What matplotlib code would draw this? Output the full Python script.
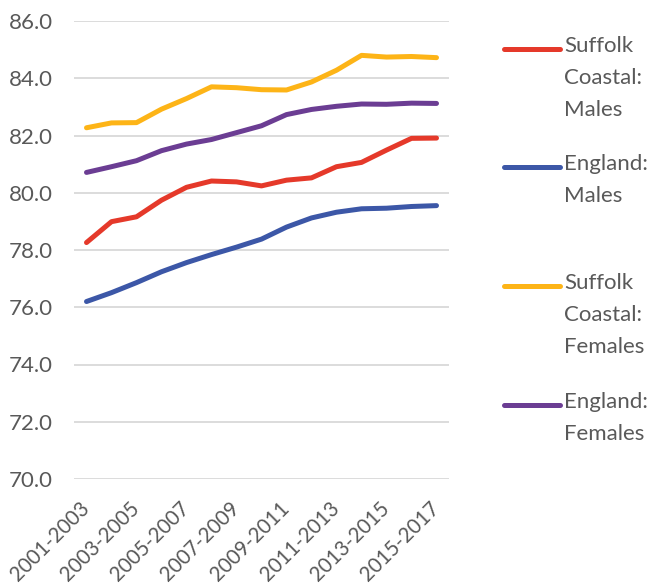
import matplotlib
matplotlib.use("Agg")
import matplotlib.pyplot as plt
from matplotlib.lines import Line2D

periods = [f"{y}-{y + 2}" for y in range(2001, 2016)]

suffolk_males = [78.26, 78.99, 79.16, 79.74, 80.19, 80.41, 80.38, 80.24,
                 80.44, 80.52, 80.91, 81.06, 81.49, 81.90, 81.91]
england_males = [76.20, 76.51, 76.86, 77.24, 77.56, 77.84, 78.10, 78.38,
                 78.80, 79.12, 79.32, 79.44, 79.46, 79.52, 79.55]
suffolk_females = [82.27, 82.44, 82.45, 82.92, 83.29, 83.70, 83.67, 83.60,
                   83.59, 83.87, 84.28, 84.80, 84.74, 84.76, 84.72]
england_females = [80.71, 80.91, 81.12, 81.47, 81.70, 81.86, 82.10, 82.34,
                   82.73, 82.91, 83.02, 83.10, 83.09, 83.13, 83.12]

series = [
    ("Suffolk\nCoastal:\nMales", suffolk_males, "#E5392A"),
    ("England:\nMales", england_males, "#3C57A7"),
    ("Suffolk\nCoastal:\nFemales", suffolk_females, "#FDB417"),
    ("England:\nFemales", england_females, "#6B3D93"),
]

font = "Lato"
text_color = "#595959"
fs = 16
fs_x = 14.8

fig = plt.figure(figsize=(6.48, 5.84), dpi=100)
ax = fig.add_axes([74 / 648, 1 - 479 / 584, 375 / 648, 458 / 584])

x = list(range(len(periods)))
for label, values, color in series:
    ax.plot(x, values, color=color, lw=3.6, solid_capstyle="round",
            solid_joinstyle="round", zorder=3)

ax.set_xlim(-0.5, len(periods) - 0.5)
ax.set_ylim(70, 86)
ax.set_yticks([70, 72, 74, 76, 78, 80, 82, 84, 86])
ax.set_yticklabels([f"{v:.1f}" for v in ax.get_yticks()],
                   fontfamily=font, fontsize=fs, color=text_color)
ax.grid(axis="y", color="#D9D9D9", lw=1.3, zorder=0)
ax.set_axisbelow(True)

tick_pos = x[::2]
ax.set_xticks(tick_pos)
ax.set_xticklabels([periods[i] for i in tick_pos], rotation=45,
                   ha="right", va="center", rotation_mode="anchor",
                   fontfamily=font, fontsize=fs_x, color=text_color)
ax.tick_params(axis="both", length=0)
ax.tick_params(axis="y", pad=15)
ax.tick_params(axis="x", pad=19)
for s in ax.spines.values():
    s.set_visible(False)

# Legend drawn on the right, handle aligned with the first text line
legend_y = [49, 167, 286, 405]
for (label, values, color), ypx in zip(series, legend_y):
    yf = 1 - ypx / 584
    fig.add_artist(Line2D([504 / 648, 560 / 648], [yf, yf], color=color,
                          lw=3.6, solid_capstyle="round",
                          transform=fig.transFigure))
    fig.text(564 / 648, yf + 13 / 584, label, ha="left", va="top",
             fontfamily=font, fontsize=fs, color=text_color,
             linespacing=1.75)

fig.savefig("out.png", dpi=100)
